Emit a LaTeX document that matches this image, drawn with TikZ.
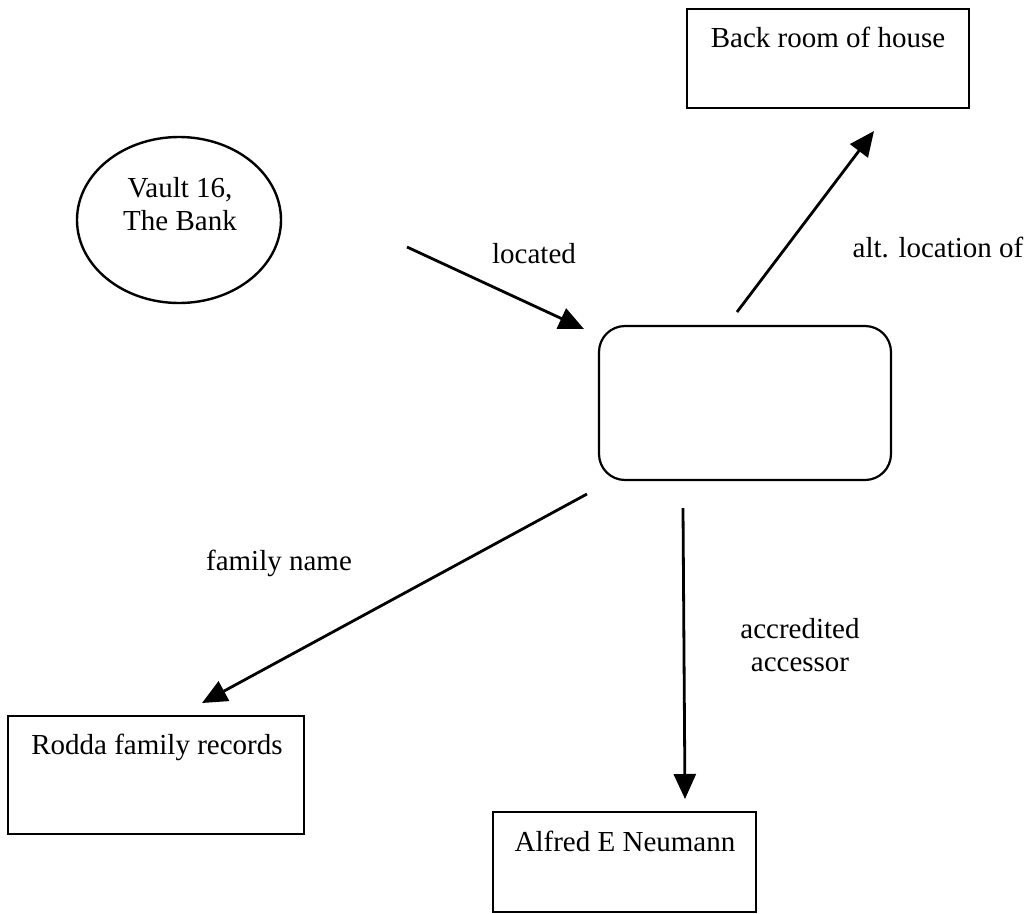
\documentclass[tikz,border=0pt]{standalone}
\usepackage{fontspec}
\setmainfont{Liberation Serif}
\usetikzlibrary{arrows.meta,shapes.geometric}
\begin{document}
\begin{tikzpicture}[x=1pt,y=-1pt,
  box/.style={draw,line width=2.4pt,rectangle,inner sep=0pt},
  hubbox/.style={draw,line width=2.2pt,rectangle,rounded corners=26pt,inner sep=0pt},
  oval/.style={draw,line width=2.4pt,ellipse,inner sep=0pt},
  lbl/.style={anchor=base,inner sep=0pt,font=\fontsize{29}{33}\selectfont,align=center},
  arr/.style={line width=2.8pt,-{Triangle[length=25pt,width=22pt]}},
  ln/.style={line width=2.8pt}]
\useasboundingbox (0,0) rectangle (1033,913);
% nodes
\node[box,minimum width=282pt,minimum height=99pt] (back) at (828,58.5) {};
\node[lbl] (backt) at (828,47) {Back room of house};
\node[oval,minimum width=204pt,minimum height=166pt] (vault) at (179,220) {};
\node[lbl] (vaultt) at (180,230) {Vault 16,\\The Bank};
\node[hubbox,minimum width=292pt,minimum height=154pt] (hub) at (745,403) {};
\node[box,minimum width=296pt,minimum height=118pt] (rodda) at (156,775) {};
\node[lbl] (roddat) at (157,754) {Rodda family records};
\node[box,minimum width=263pt,minimum height=100pt] (alfred) at (624.5,862) {};
\node[lbl] (alfredt) at (625,851) {Alfred E Neumann};
% connector ends
\coordinate (l1) at (407,247);
\coordinate (l2) at (584,329);
\coordinate (a1) at (737,312);
\coordinate (a2) at (874,131);
\coordinate (f1) at (587,494);
\coordinate (f2) at (202,703);
\coordinate (c1) at (683,508);
\coordinate (c2) at (685,799);
% connectors
\draw[arr] (l1) -- (l2);
\draw[arr] (a1) -- (a2);
\draw[arr] (f1) -- (f2);
\draw[arr] (c1) -- (c2);
% labels
\node[lbl] (loc) at (534,263) {located};
\node[lbl] (alt) at (938,257) {alt. location of};
\node[lbl] (fam) at (279,570) {family name};
\node[lbl] (acc) at (800,671) {accredited\\accessor};
\end{tikzpicture}
\end{document}
